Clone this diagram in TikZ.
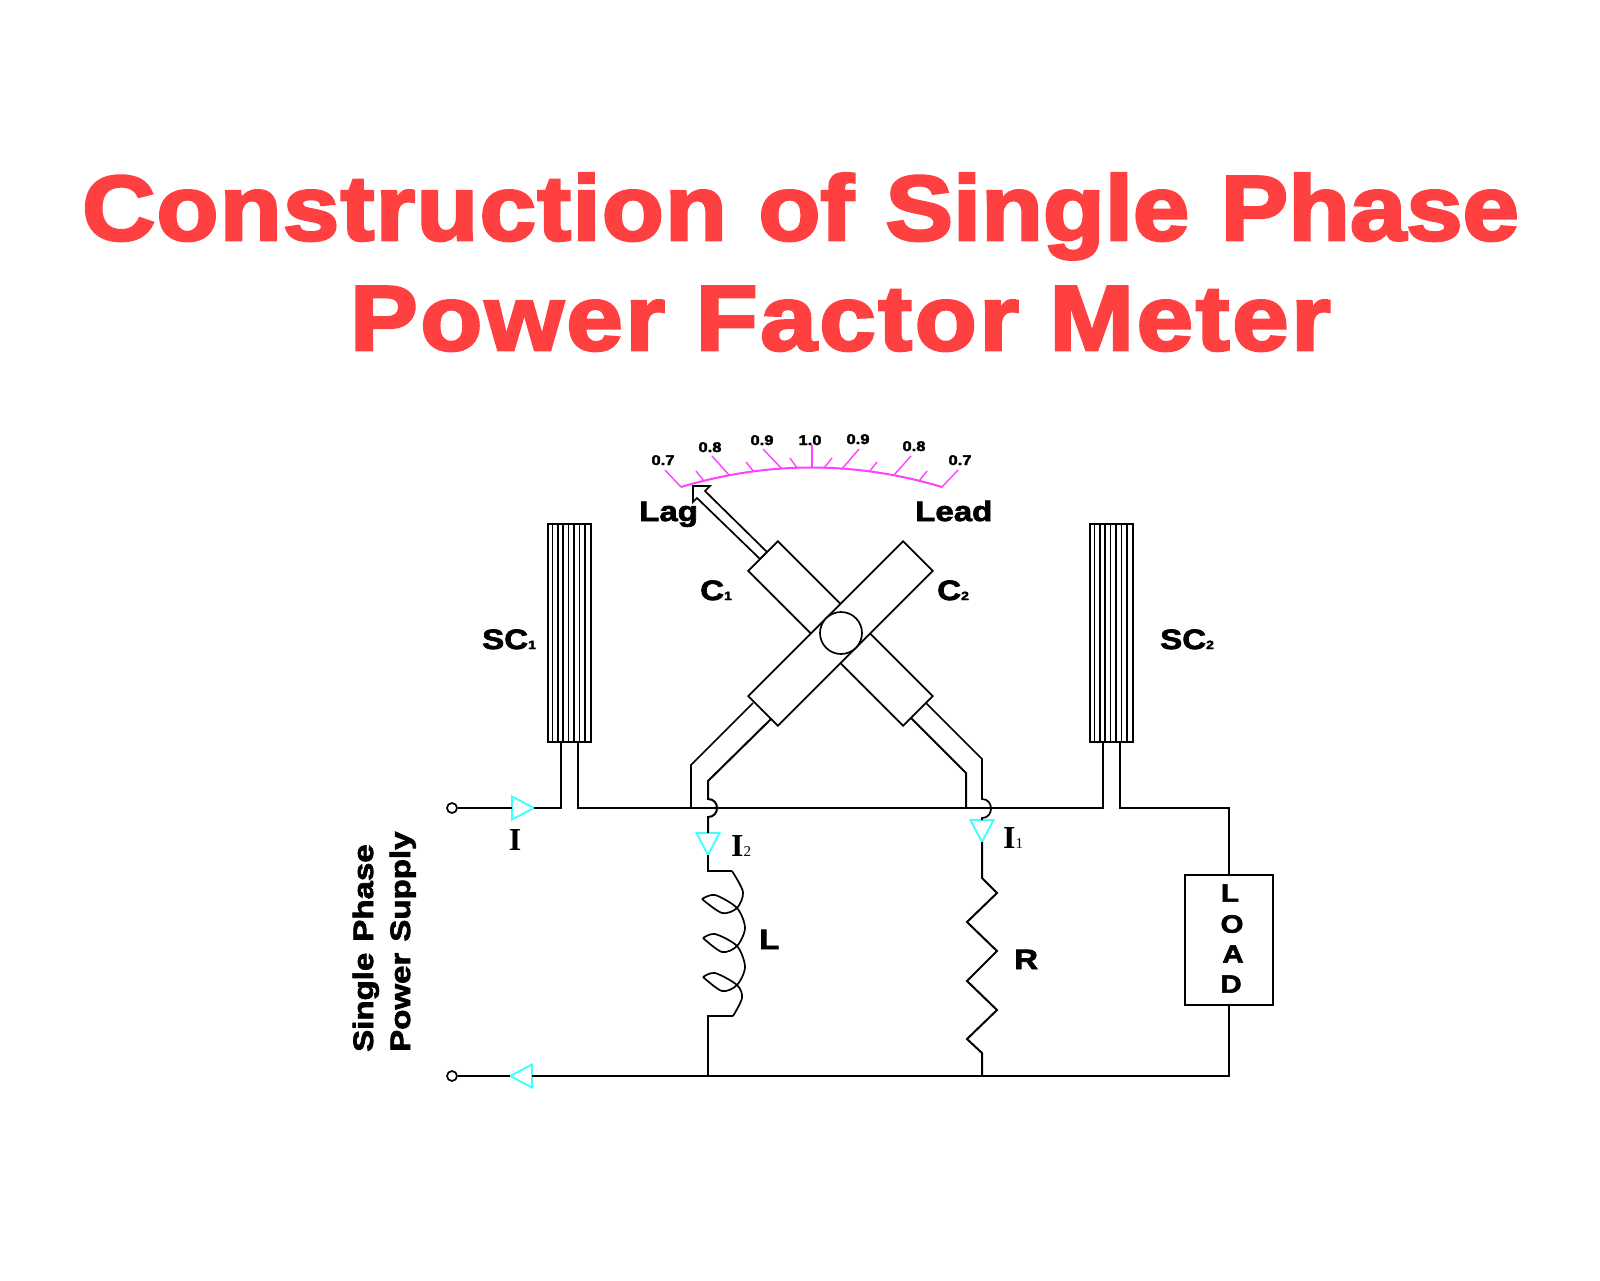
\documentclass[tikz,border=0pt]{standalone}
\usepackage{fontspec}
\usetikzlibrary{positioning,shapes.geometric}
\newfontfamily\heavyfont[UprightFont=* Bold,FakeBold=3.2,FakeStretch=1.10,WordSpace=1.12]{Liberation Sans}
\newfontfamily\heavywide[UprightFont=* Bold,FakeBold=3.2,FakeStretch=1.10,WordSpace=1.12,LetterSpace=1.5]{Liberation Sans}
\newfontfamily\heavywider[UprightFont=* Bold,FakeBold=3.2,FakeStretch=1.10,WordSpace=1.0,LetterSpace=3]{Liberation Sans}
\newfontfamily\labelfont[UprightFont=* Bold,FakeBold=2.5,FakeStretch=1.18,WordSpace=1.2]{Liberation Sans}
\newfontfamily\serifbold[UprightFont=* Bold]{Liberation Serif}
\newfontfamily\serifplain{Liberation Serif}
\definecolor{titlered}{RGB}{255,64,64}
\definecolor{scalepink}{RGB}{255,64,255}
\definecolor{flowcyan}{RGB}{64,255,255}
\newcommand{\sizedfont}[1]{\fontsize{#1}{#1}\selectfont}
\newcommand{\heavysub}[3]{{\labelfont\sizedfont{#1}#2{\sizedfont{12}#3}}}
\newcommand{\currentlabel}[2]{{\serifbold\sizedfont{32}#1{\serifplain\sizedfont{15}#2}}}
\tikzset{
	wire/.style={line width=2pt},
	thinwire/.style={line width=1.7pt},
	term/.style={circle,draw,line width=1.7pt,minimum size=10pt,inner sep=0pt},
	flowtip/.style={isosceles triangle,isosceles triangle stretches,draw=flowcyan,fill=white,line width=1.9pt,minimum height=22pt,minimum width=23pt,inner sep=0pt,outer sep=0pt},
	stator/.style={rectangle,draw,line width=2pt,minimum width=43pt,minimum height=218pt,inner sep=0pt},
	coil/.style={rectangle,draw,fill=white,line width=1.8pt,minimum width=219pt,minimum height=42pt,inner sep=0pt},
	heavy/.style={inner sep=0pt,anchor=base west,font=\labelfont\sizedfont{28}},
	scalenum/.style={inner sep=0pt,anchor=base,font=\labelfont\sizedfont{14}},
	scaletick/.style={draw=scalepink,line width=1.4pt},
	loadletter/.style={inner sep=0pt,font=\labelfont\sizedfont{25}}
}
\begin{document}
\begin{tikzpicture}[x=1pt,y=-1pt,on grid]
	\useasboundingbox (0,0) rectangle (1600,1280);

	\node [inner sep=0pt,anchor=base west,text=titlered,font=\heavyfont\sizedfont{92}] (titlea) at (82,240) {{\heavywide Construction} of Single Phase};
	\node [inner sep=0pt,anchor=base west,text=titlered,font=\heavywider\sizedfont{92}] (titleb) at (350,350) {Power Factor Meter};

	\node [term] (ta) at (452,808) {};
	\node [term] (tb) [below=268pt of ta] {};
	\node [flowtip,anchor=apex] (fa) at (534,808) {};
	\node [flowtip,anchor=apex,rotate=180] (fb) at (510,1076) {};
	\node [stator] (sca) at (569.5,633) {};
	\node [stator] (scb) at (1111.5,633) {};
	\node [rectangle,draw,line width=2pt,minimum width=88pt,minimum height=130pt] (load) at (1229,939.5) {};
	\coordinate (sa1) at (561,742);
	\coordinate (sa2) at (578,742);
	\coordinate (sb1) at (1103,742);
	\coordinate (sb2) at (1120,742);
	\coordinate [below=66pt of sa1] (ra1);
	\coordinate [below=66pt of sa2] (ra2);
	\coordinate [below=66pt of sb1] (rb1);
	\coordinate [below=66pt of sb2] (rb2);
	\coordinate (rc) at (load.north |- rb2);
	\coordinate (rd) at (load.south |- tb);

	\draw [wire] (ta) -- (fa.lower side);
	\draw [wire] (fa.apex) -- (ra1) -- (sa1);
	\draw [wire] (sa2) -- (ra2) -- (rb1) -- (sb1);
	\draw [wire] (sb2) -- (rb2) -- (rc) -- (load.north);
	\draw [wire] (load.south) -- (rd) -- (fb.lower side);
	\draw [wire] (fb.apex) -- (tb);

	\draw [thinwire] (sca.north west) ++(5.4,0) -- +(0,218) ++(5.4,0) -- +(0,218) ++(5.4,0) -- +(0,218) ++(5.4,0) -- +(0,218) ++(5.4,0) -- +(0,218) ++(5.4,0) -- +(0,218) ++(5.4,0) -- +(0,218);
	\draw [thinwire] (scb.north west) ++(5.4,0) -- +(0,218) ++(5.4,0) -- +(0,218) ++(5.4,0) -- +(0,218) ++(5.4,0) -- +(0,218) ++(5.4,0) -- +(0,218) ++(5.4,0) -- +(0,218) ++(5.4,0) -- +(0,218);

	\node [flowtip,anchor=apex,rotate=-90] (fl) at (708,855) {};
	\node [flowtip,anchor=apex,rotate=-90] (fr) at (982,842) {};
	\coordinate (ja) at (691,765);
	\coordinate (jb) at (708,781);
	\coordinate (jc) at (982,759);
	\coordinate (jd) at (966,773);
	\coordinate (lt) at (708,871);
	\coordinate (lb) at (708,1016);
	\coordinate (ls) at (732,871);
	\coordinate (le) at (733,1016);

	\draw [thinwire] (753,703) -- (ja) -- (691,808);
	\draw [wire] (772,718) -- (jb) -- (708,799) .. controls (720,799) and (720,817) .. (708,817) -- (fl.lower side);
	\draw [thinwire] (926,703) -- (jc) -- (982,799) .. controls (994,799) and (994,818) .. (982,818) -- (fr.lower side);
	\draw [wire] (911,718) -- (jd) -- (966,808);

	\draw [wire] (fl.apex) -- (lt) -- (ls);
	\draw [thinwire] plot [smooth] coordinates {(732,871) (743,892) (737,908) (722,913) (702,899)};
	\draw [thinwire] plot [smooth] coordinates {(702,899) (715,895) (737,908) (745,928) (737,946) (722,952) (703,938)};
	\draw [thinwire] plot [smooth] coordinates {(703,938) (715,934) (737,946) (745,967) (737,985) (722,991) (703,977)};
	\draw [thinwire] plot [smooth] coordinates {(703,977) (715,973) (737,985) (742,998) (733,1016)};
	\draw [wire] (le) -- (lb) -- (708,1076);

	\draw [wire] (fr.apex) -- (982,878) -- (997,893) -- (967,922) -- (997,951) -- (967,981) -- (997,1010) -- (967,1039) -- (982,1053) -- (982,1076);

	\draw [thinwire,fill=white] (693,486) -- (710,486) -- (705,491) -- (767,552) -- (760,559) -- (697,498) -- (693,502) -- cycle;
	\node [coil,rotate=-45] (coila) at (840.5,633.5) {};
	\node [coil,rotate=45] (coilb) at (840.5,633.5) {};
	\node [circle,draw,fill=white,line width=1.7pt,minimum size=42pt,inner sep=0pt] (pivot) at (841,633) {};

	\draw [scaletick,line width=2pt] (681,487) .. controls (768,461) and (855,461) .. (942,487);
	\draw [scaletick] (665,470) -- (681,487);
	\draw [scaletick] (696,471) -- (704,481);
	\draw [scaletick] (712,456) -- (729,475);
	\draw [scaletick] (746,462) -- (754,472);
	\draw [scaletick] (763,449) -- (782,469);
	\draw [scaletick] (790,458) -- (797,468);
	\draw [scaletick] (812,445) -- (812,468);
	\draw [scaletick] (832,458) -- (824,468);
	\draw [scaletick] (859,449) -- (841,470);
	\draw [scaletick] (877,462) -- (869,472);
	\draw [scaletick] (911,456) -- (894,475);
	\draw [scaletick] (927,471) -- (919,481);
	\draw [scaletick] (958,470) -- (942,487);

	\node [scalenum] (numa) at (663,465) {0.7};
	\node [scalenum] (numb) at (710,452) {0.8};
	\node [scalenum] (numc) at (762,445) {0.9};
	\node [scalenum] (numd) at (810,445) {1.0};
	\node [scalenum] (nume) at (858,444) {0.9};
	\node [scalenum] (numf) at (914,451) {0.8};
	\node [scalenum] (numg) at (960,465) {0.7};

	\node [heavy] (lag) at (639,521) {Lag};
	\node [heavy] (lead) at (915,521) {Lead};
	\node [heavy] (ca) at (700,600) {\heavysub{28}{C}{1}};
	\node [heavy] (cb) at (937,600) {\heavysub{28}{C}{2}};
	\node [heavy] (lsc) at (482,649) {\heavysub{28}{SC}{1}};
	\node [heavy] (rsc) at (1160,649) {\heavysub{28}{SC}{2}};
	\node [heavy] (lind) at (759,949) {L};
	\node [heavy] (rres) at (1014,969) {R};

	\node [inner sep=0pt,anchor=base] (ii) at (515,850) {\currentlabel{I}{}};
	\node [inner sep=0pt,anchor=base west] (iib) at (731,856) {\currentlabel{I}{2}};
	\node [inner sep=0pt,anchor=base west] (iia) at (1003,848) {\currentlabel{I}{1}};

	\node [loadletter] (la) at (1230,893) {L};
	\node [loadletter] [below=31pt of la,xshift=2pt] (lo) {O};
	\node [loadletter] [below=30pt of lo,xshift=1pt] (lc) {A};
	\node [loadletter] [below=30pt of lc,xshift=-2pt] (ld) {D};

	\node [heavy,rotate=90] (supa) at (373,1052) {Single Phase};
	\node [heavy,rotate=90] (supb) at (410,1052) {Power Supply};
\end{tikzpicture}
\end{document}
